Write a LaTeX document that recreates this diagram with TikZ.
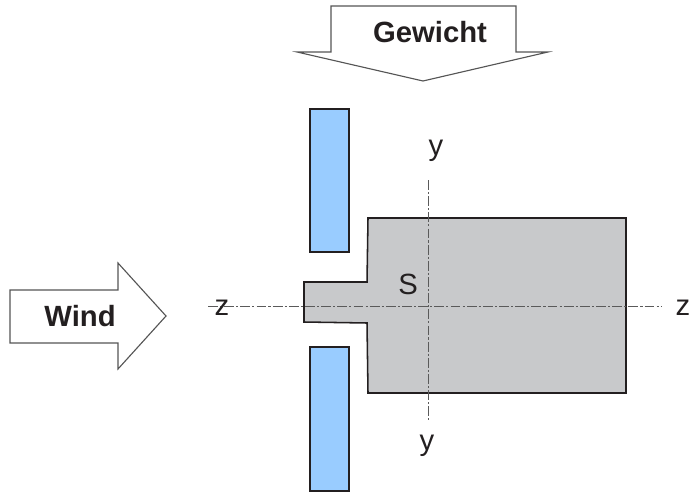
\documentclass[tikz,border=0pt]{standalone}
\usepackage{fontspec}
\setmainfont{Liberation Sans}
\definecolor{plateblue}{RGB}{153,204,255}
\definecolor{bodygray}{RGB}{200,201,203}
\definecolor{arrowline}{RGB}{85,85,85}
\definecolor{axisline}{RGB}{90,90,90}
\definecolor{textdark}{RGB}{35,31,32}
\tikzset{
    bigarrow/.style={draw=arrowline, fill=white, line width=0.8pt, line join=miter},
    plate/.style={draw=textdark, fill=plateblue, line width=1.1pt},
    bodyshape/.style={draw=textdark, fill=bodygray, line width=1.1pt},
    axisdash/.style={draw=axisline, line width=0.55pt, dash pattern=on 7pt off 1.5pt on 1.5pt off 1.5pt},
    boldlabel/.style={font=\fontsize{20.8}{24}\selectfont\bfseries, text=textdark, inner sep=0pt},
    axislabel/.style={font=\fontsize{20.8}{24}\selectfont, text=textdark, inner sep=0pt},
}
\begin{document}
\begin{tikzpicture}[x=0.025cm,y=-0.025cm]
\useasboundingbox (0,0) rectangle (694,492);
\draw[bigarrow] (331,6) -- (516,6) -- (516,52) -- (548,52) -- (423,81) -- (297,52) -- (331,52) -- cycle;
\draw[bigarrow] (10,290) -- (118,290) -- (118,263) -- (166,316) -- (118,369) -- (118,343) -- (10,343) -- cycle;
\draw[plate] (310,109) rectangle (349,252);
\draw[plate] (310,347) rectangle (349,491);
\draw[bodyshape] (368,218) -- (626,218) -- (626,393) -- (368,393) -- (367,323) -- (304,322) -- (304,282) -- (367,282) -- cycle;
\coordinate (zleft) at (208,306);
\coordinate (zright) at (662,306);
\coordinate (ytop) at (428,180);
\coordinate (ybottom) at (428,422);
\draw[axisdash] (zleft) -- (zright);
\draw[axisdash] (ytop) -- (ybottom);
\node[boldlabel] (gewicht) at (430,32) {Gewicht};
\node[boldlabel] (wind) at (80,316) {Wind};
\node[axislabel] (ylabeltop) at (436,151) {y};
\node[axislabel] (ylabelbottom) at (427,446) {y};
\node[axislabel] (slabel) at (408,284) {S};
\node[axislabel] (zlabelleft) at (222,308) {z};
\node[axislabel] (zlabelright) at (683,308) {z};
\end{tikzpicture}
\end{document}
